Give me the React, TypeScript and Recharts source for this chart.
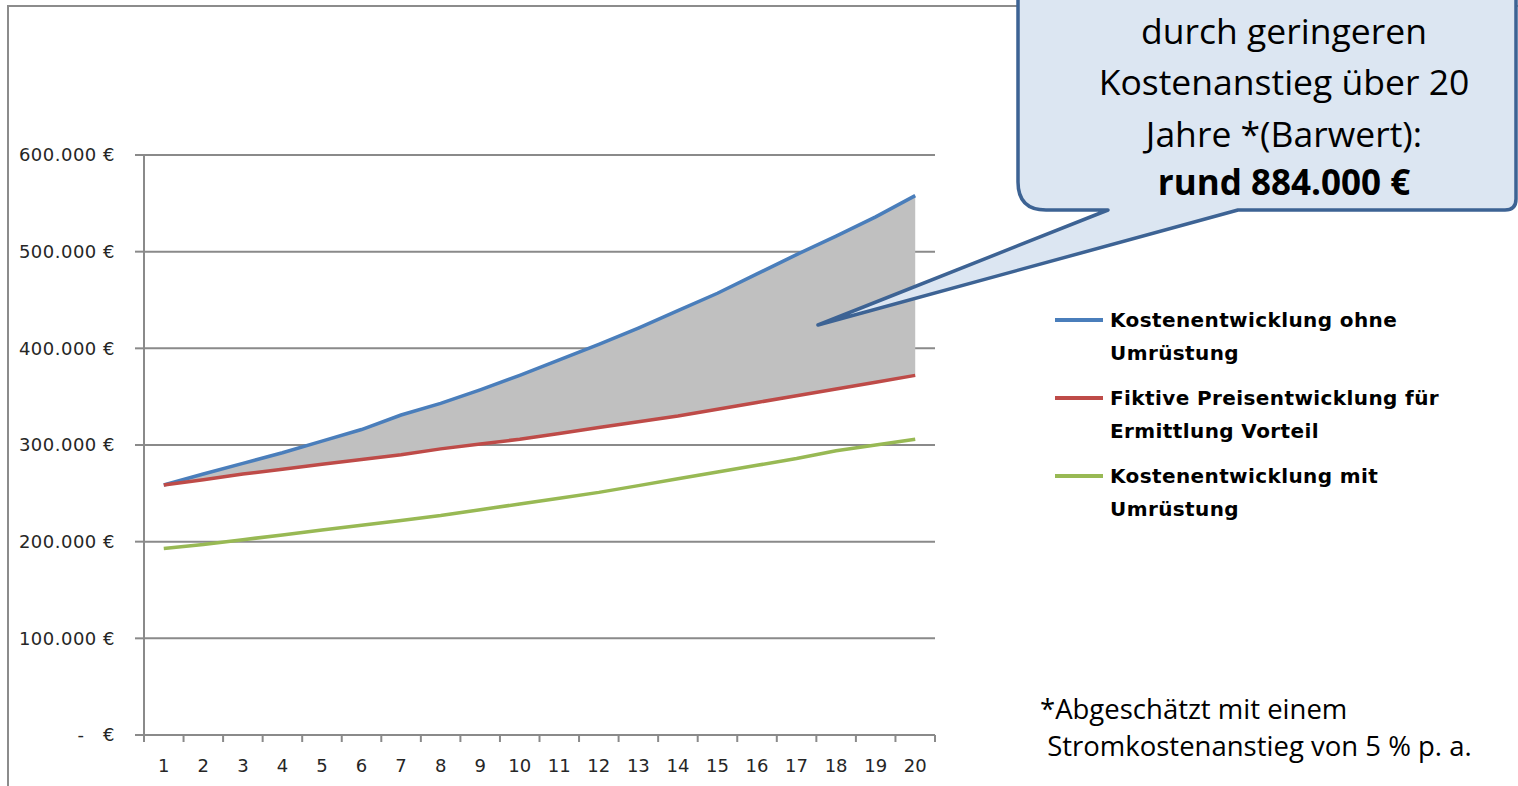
import { ComposedChart, Line, Area, XAxis, YAxis, CartesianGrid } from 'recharts';

// Jahre 1..20
const years = [1, 2, 3, 4, 5, 6, 7, 8, 9, 10, 11, 12, 13, 14, 15, 16, 17, 18, 19, 20];

// Werte in Euro
const costWithout = [
  258600, 270000, 281000, 292000, 304000, 316000, 331000, 343000, 357000, 372000,
  388000, 404000, 421000, 439000, 457000, 477000, 497000, 516000, 536000, 558000,
];
const costFictive = [
  258600, 264000, 270000, 275000, 280000, 285000, 290000, 296000, 301000, 306000,
  312000, 318000, 324000, 330000, 337000, 344000, 351000, 358000, 365000, 372000,
];
const costWith = [
  193000, 197000, 202000, 207000, 212000, 217000, 222000, 227000, 233000, 239000,
  245000, 251000, 258000, 265000, 272000, 279000, 286000, 294000, 300000, 306000,
];

const yTicks = [0, 100000, 200000, 300000, 400000, 500000, 600000];

const seriesNames = [
  ['Kostenentwicklung ohne', 'Umrüstung'],
  ['Fiktive Preisentwicklung für', 'Ermittlung Vorteil'],
  ['Kostenentwicklung mit', 'Umrüstung'],
];
const COLORS = ['#4a7ebb', '#be4b48', '#98b954'];

const calloutLines = ['durch geringeren', 'Kostenanstieg über 20', 'Jahre *(Barwert):'];
const calloutTotal = 'rund 884.000 €';
const footnote = ['*Abgeschätzt mit einem', ' Stromkostenanstieg von 5 % p. a.'];

const data = years.map((year, i) => ({
  year,
  ohne: costWithout[i],
  fiktiv: costFictive[i],
  mit: costWith[i],
  gap: [costFictive[i], costWithout[i]],
}));

// ticks between the categories (boundaries) and labels at the centres
const xTicks = years.flatMap((y) => [y - 0.5, y]).concat(years[years.length - 1] + 0.5);

const AXIS = '#8a8a8a';
const LABEL_FONT = '"DejaVu Sans", Verdana, sans-serif';
const TEXT_FONT = '"Open Sans", sans-serif';

const formatEuro = (v: number) =>
  v === 0 ? '-\u00a0\u00a0\u00a0€' : `${(v / 1000).toFixed(0)}.000 €`;

const XTick = ({ x, y, payload }: any) => {
  const v = payload.value;
  if (!Number.isInteger(v)) {
    return <line x1={x} x2={x} y1={y} y2={y + 7} stroke={AXIS} strokeWidth={2} />;
  }
  return (
    <text
      x={x}
      y={y + 30}
      textAnchor="middle"
      dominantBaseline="central"
      fontFamily={LABEL_FONT}
      fontSize={18}
      fill="#262626"
    >
      {v}
    </text>
  );
};

export default function App() {
  return (
    <div
      style={{
        position: 'fixed',
        left: 0,
        top: 0,
        width: 1518,
        height: 786,
        overflow: 'hidden',
        background: '#fff',
      }}
    >
      {/* chart frame */}
      <div
        style={{
          position: 'absolute',
          left: 7,
          top: 5,
          width: 1700,
          height: 1000,
          border: '2px solid #8c8c8c',
        }}
      />

      <div style={{ position: 'absolute', left: 0, top: 0 }}>
        <ComposedChart
          width={960}
          height={786}
          data={data}
          margin={{ top: 155, right: 25, bottom: 0, left: 0 }}
        >
          <CartesianGrid horizontal vertical={false} stroke={AXIS} strokeWidth={2} />
          <XAxis
            dataKey="year"
            type="number"
            domain={[0.5, 20.5]}
            ticks={xTicks}
            interval={0}
            height={51}
            tickLine={false}
            tickSize={0}
            tickMargin={0}
            axisLine={{ stroke: AXIS, strokeWidth: 2 }}
            tick={<XTick />}
          />
          <YAxis
            type="number"
            domain={[0, 600000]}
            ticks={yTicks}
            interval={0}
            width={144}
            tickSize={9}
            tickMargin={20}
            tickFormatter={formatEuro}
            axisLine={{ stroke: AXIS, strokeWidth: 2 }}
            tickLine={{ stroke: AXIS, strokeWidth: 2 }}
            tick={{ fontFamily: LABEL_FONT, fontSize: 18, fill: '#262626', letterSpacing: 0.5 }}
          />
          <Area
            dataKey="gap"
            type="linear"
            stroke="none"
            fill="#c0c0c0"
            fillOpacity={1}
            isAnimationActive={false}
          />
          <Line dataKey="ohne" type="linear" stroke={COLORS[0]} strokeWidth={3.5} dot={false} isAnimationActive={false} />
          <Line dataKey="fiktiv" type="linear" stroke={COLORS[1]} strokeWidth={3.5} dot={false} isAnimationActive={false} />
          <Line dataKey="mit" type="linear" stroke={COLORS[2]} strokeWidth={3.5} dot={false} isAnimationActive={false} />
        </ComposedChart>
      </div>

      {/* legend */}
      <div style={{ position: 'absolute', left: 1055, top: 304 }}>
        {seriesNames.map((lines, i) => (
          <div key={i} style={{ position: 'relative', height: 78 }}>
            <div
              style={{
                position: 'absolute',
                left: 0,
                top: 14,
                width: 48,
                height: 3.5,
                background: COLORS[i],
              }}
            />
            <div
              style={{
                position: 'absolute',
                left: 55,
                top: 0,
                fontFamily: LABEL_FONT,
                fontWeight: 700,
                fontSize: 20,
                letterSpacing: 0.4,
                lineHeight: '33px',
                color: '#000',
                whiteSpace: 'nowrap',
              }}
            >
              {lines[0]}
              <br />
              {lines[1]}
            </div>
          </div>
        ))}
      </div>

      {/* footnote */}
      <div
        style={{
          position: 'absolute',
          left: 1040,
          top: 690,
          fontFamily: TEXT_FONT,
          fontSize: 27.5,
          lineHeight: '37px',
          color: '#000',
          whiteSpace: 'pre',
        }}
      >
        {footnote[0]}
        <br />
        {footnote[1]}
      </div>

      {/* callout */}
      <svg
        width={1518}
        height={786}
        style={{ position: 'absolute', left: 0, top: 0, pointerEvents: 'none' }}
      >
        <path
          d="M 1018 -20 L 1018 182 Q 1018 210 1046 210 L 1108 210 L 818 325 L 1238 210 L 1505 210 Q 1516 210 1516 199 L 1516 -20 Z"
          fill="#dce6f2"
          stroke="#3d6394"
          strokeWidth={3.5}
          strokeLinejoin="round"
        />
        {calloutLines.map((t, i) => (
          <text
            key={i}
            x={1284}
            y={[44, 95, 147][i]}
            textAnchor="middle"
            fontFamily={TEXT_FONT}
            fontSize={35.5}
            fill="#000"
          >
            {t}
          </text>
        ))}
        <text
          x={1284}
          y={195}
          textAnchor="middle"
          fontFamily={TEXT_FONT}
          fontWeight={700}
          fontSize={35}
          fill="#000"
        >
          {calloutTotal}
        </text>
      </svg>
    </div>
  );
}
